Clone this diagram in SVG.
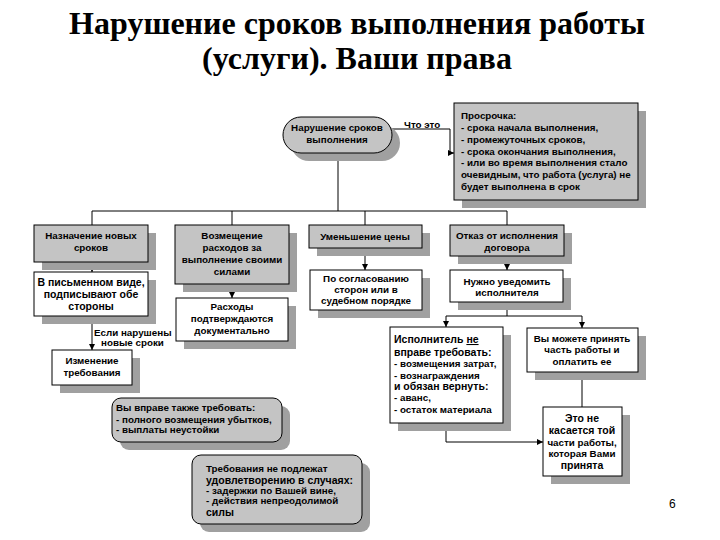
<svg xmlns="http://www.w3.org/2000/svg" width="720" height="540" viewBox="0 0 720 540">
<style>
.title{font-family:"Liberation Serif",serif;font-weight:bold;font-size:32px;fill:#000;text-anchor:middle}
.t{font-family:"Liberation Sans",Arial,sans-serif;font-weight:bold;font-size:9.8px;fill:#000}
.c{text-anchor:middle}
.big{font-size:10.5px}
.gray{fill:#c4c4c4;stroke:#000;stroke-width:1}
.white{fill:#fff;stroke:#000;stroke-width:1}
.sh{fill:#a0a0a0}
.ln{fill:none;stroke:#000;stroke-width:1}
.pg{font-family:"Liberation Sans",Arial,sans-serif;font-size:12px;fill:#000}
</style>
<defs>
<marker id="ar" markerUnits="userSpaceOnUse" markerWidth="6" markerHeight="6" refX="6" refY="3" orient="auto">
<path d="M0,0 L6,3 L0,6 z" fill="#000"/>
</marker>
</defs>
<rect width="720" height="540" fill="#fff"/>
<text class="title" x="357" y="34">Нарушение сроков выполнения работы</text>
<text class="title" x="357" y="69">(услуги). Ваши права</text>

<g id="connectors">
<path class="ln" d="M391,129 H450 V153 H454" marker-end="url(#ar)"/>
<text class="t" x="404" y="128">Что это</text>
<path class="ln" d="M338,153 V211"/>
<path class="ln" d="M92,225 V211 H507 V225"/>
<path class="ln" d="M232,211 V225"/>
<path class="ln" d="M365,211 V225"/>
<path class="ln" d="M92,262 V272" marker-end="url(#ar)"/>
<path class="ln" d="M232,284 V298" marker-end="url(#ar)"/>
<path class="ln" d="M365,248 V270" marker-end="url(#ar)"/>
<path class="ln" d="M507,256 V270" marker-end="url(#ar)"/>
<path class="ln" d="M92,316 V350" marker-end="url(#ar)"/>
<text class="t" x="94" y="336">Если нарушены</text>
<text class="t" x="101" y="346">новые сроки</text>
<path class="ln" d="M507,302 V316 H446 V327" marker-end="url(#ar)"/>
<path class="ln" d="M507,316 H582 V328" marker-end="url(#ar)"/>
<path class="ln" d="M446,423 V442 H543" marker-end="url(#ar)"/>
<path class="ln" d="M582,407 V372" marker-end="url(#ar)"/>
</g>

<g id="n-narushenie">
<rect class="sh" x="291" y="125" width="109" height="36" rx="18"/>
<rect class="gray" x="283" y="117" width="109" height="36" rx="18"/>
<text class="t c" x="337" y="131">Нарушение сроков</text>
<text class="t c" x="337" y="143">выполнения</text>
</g>

<g id="n-prosrochka">
<rect class="sh" x="462" y="111" width="184" height="97"/>
<rect class="gray" x="454" y="103" width="184" height="97"/>
<text class="t" x="461" y="119">Просрочка:</text>
<text class="t" x="461" y="131">- срока начала выполнения,</text>
<text class="t" x="461" y="143">- промежуточных сроков,</text>
<text class="t" x="461" y="155">- срока окончания выполнения,</text>
<text class="t" x="461" y="166">- или во время выполнения стало</text>
<text class="t" x="461" y="178">очевидным, что работа (услуга) не</text>
<text class="t" x="461" y="190">будет выполнена в срок</text>
</g>

<g id="n-naznachenie">
<rect class="sh" x="42" y="233" width="114" height="37"/>
<rect class="gray" x="34" y="225" width="114" height="37"/>
<text class="t c" x="91" y="239">Назначение новых</text>
<text class="t c" x="91" y="251">сроков</text>
</g>

<g id="n-vozmeshenie">
<rect class="sh" x="183" y="233" width="114" height="59"/>
<rect class="gray" x="175" y="225" width="114" height="59"/>
<text class="t c" x="232" y="239">Возмещение</text>
<text class="t c" x="232" y="251">расходов  за</text>
<text class="t c" x="232" y="263">выполнение своими</text>
<text class="t c" x="232" y="275">силами</text>
</g>

<g id="n-umenshenie">
<rect class="sh" x="317" y="233" width="113" height="23"/>
<rect class="gray" x="309" y="225" width="113" height="23"/>
<text class="t c" x="365" y="240">Уменьшение цены</text>
</g>

<g id="n-otkaz">
<rect class="sh" x="458" y="233" width="114" height="31"/>
<rect class="gray" x="450" y="225" width="114" height="31"/>
<text class="t c" x="507" y="239">Отказ от исполнения</text>
<text class="t c" x="507" y="251">договора</text>
</g>

<g id="n-pismennom">
<rect class="sh" x="42" y="280" width="114" height="44"/>
<rect class="white" x="34" y="272" width="114" height="44"/>
<text class="t c big" x="91" y="286">В письменном виде,</text>
<text class="t c big" x="91" y="298">подписывают обе</text>
<text class="t c big" x="91" y="310">стороны</text>
</g>

<g id="n-rashody">
<rect class="sh" x="184" y="306" width="112" height="43"/>
<rect class="white" x="176" y="298" width="112" height="43"/>
<text class="t c" x="232" y="310">Расходы</text>
<text class="t c" x="232" y="322">подтверждаются</text>
<text class="t c" x="232" y="334">документально</text>
</g>

<g id="n-soglasovaniyu">
<rect class="sh" x="318" y="278" width="112" height="40"/>
<rect class="white" x="310" y="270" width="112" height="40"/>
<text class="t c" x="366" y="282">По согласованию</text>
<text class="t c" x="366" y="293">сторон или в</text>
<text class="t c" x="366" y="304">судебном порядке</text>
</g>

<g id="n-uvedomit">
<rect class="sh" x="458" y="278" width="113" height="32"/>
<rect class="white" x="450" y="270" width="113" height="32"/>
<text class="t c" x="507" y="285">Нужно уведомить</text>
<text class="t c" x="507" y="296">исполнителя</text>
</g>

<g id="n-izmenenie">
<rect class="sh" x="60" y="358" width="80" height="35"/>
<rect class="white" x="52" y="350" width="80" height="35"/>
<text class="t c" x="92" y="364">Изменение</text>
<text class="t c" x="92" y="376">требования</text>
</g>

<g id="n-ispolnitel">
<rect class="sh" x="398" y="335" width="113" height="96"/>
<rect class="white" x="390" y="327" width="113" height="96"/>
<text class="t big" x="394" y="343">Исполнитель <tspan text-decoration="underline">не</tspan></text>
<text class="t big" x="394" y="356">вправе требовать:</text>
<text class="t" x="394" y="367">- возмещения затрат,</text>
<text class="t" x="394" y="379">- вознаграждения</text>
<text class="t big" x="394" y="390">и обязан вернуть:</text>
<text class="t" x="394" y="401">- аванс,</text>
<text class="t" x="394" y="413">- остаток материала</text>
</g>

<g id="n-prinyat">
<rect class="sh" x="535" y="336" width="111" height="44"/>
<rect class="white" x="527" y="328" width="111" height="44"/>
<text class="t c" x="582" y="342">Вы можете принять</text>
<text class="t c" x="582" y="353">часть работы и</text>
<text class="t c" x="582" y="365">оплатить ее</text>
</g>

<g id="n-ne-kasaetsya">
<rect class="sh" x="551" y="415" width="79" height="69"/>
<rect class="white" x="543" y="407" width="79" height="69"/>
<text class="t c big" x="582" y="422">Это не</text>
<text class="t c big" x="582" y="434">касается той</text>
<text class="t c" x="582" y="446">части работы,</text>
<text class="t c" x="582" y="457">которая Вами</text>
<text class="t c big" x="582" y="469">принята</text>
</g>

<g id="n-takzhe">
<rect class="sh" x="120" y="406" width="170" height="44" rx="9"/>
<rect class="gray" x="112" y="398" width="170" height="44" rx="9"/>
<text class="t" x="116" y="411">Вы вправе также требовать:</text>
<text class="t" x="116" y="423">- полного возмещения убытков,</text>
<text class="t" x="116" y="433">- выплаты неустойки</text>
</g>

<g id="n-ne-podlezhat">
<rect class="sh" x="200" y="463" width="170" height="69" rx="9"/>
<rect class="gray" x="192" y="455" width="170" height="69" rx="9"/>
<text class="t" x="206" y="472">Требования не подлежат</text>
<text class="t big" x="206" y="484">удовлетворению в случаях:</text>
<text class="t" x="206" y="494">- задержки по Вашей вине,</text>
<text class="t" x="206" y="504">- действия непреодолимой</text>
<text class="t big" x="206" y="516">силы</text>
</g>

<text class="pg" x="669" y="508">6</text>
</svg>
